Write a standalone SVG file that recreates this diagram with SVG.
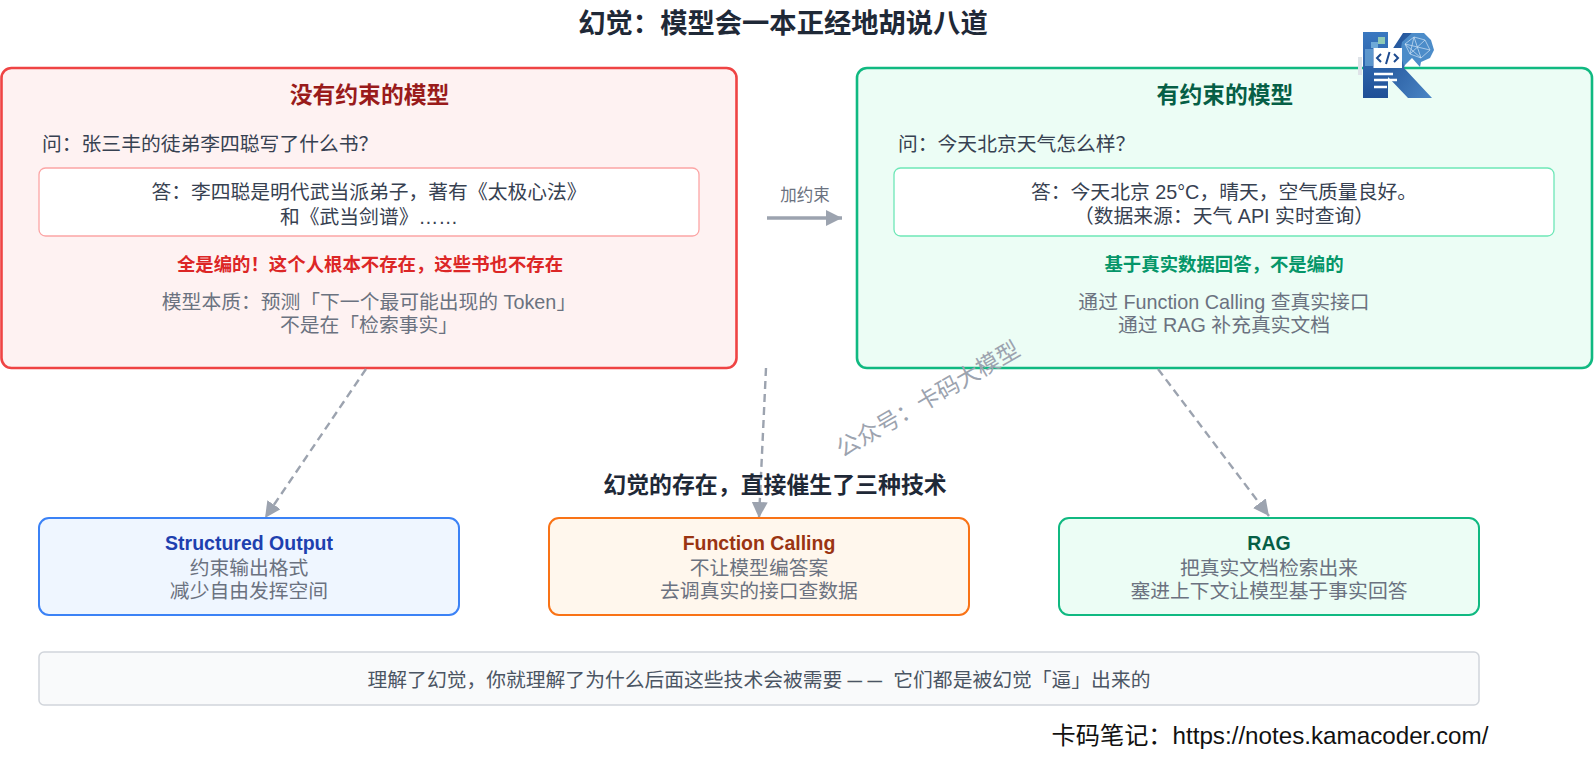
<svg xmlns="http://www.w3.org/2000/svg" width="1595" height="767" viewBox="0 0 1595 767">
<style>
text{font-family:"Liberation Sans","Noto Sans CJK SC",sans-serif;text-anchor:middle}
.b{font-weight:700}
.body{font-size:19.8px;fill:#374151}
.mut{font-size:19.8px;fill:#6b7280}
.conn{fill:none;stroke:#9ca3af;stroke-width:2.400;stroke-dasharray:8 5}
</style>
<defs>
<marker id="ah" markerUnits="userSpaceOnUse" markerWidth="20" markerHeight="20" refX="16" refY="8" orient="auto"><path d="M0 0L16 8L0 16Z" fill="#9ca3af"/></marker>
<linearGradient id="lg" x1="0" y1="0" x2="0" y2="1"><stop offset="0" stop-color="#3a78c0"/><stop offset="1" stop-color="#1f4f96"/></linearGradient>
<linearGradient id="lg2" x1="0" y1="0" x2="1" y2="1"><stop offset="0" stop-color="#1f4f96"/><stop offset="1" stop-color="#4a86c5"/></linearGradient>
</defs>
<rect width="1595" height="767" fill="#fff"/>
<text id="title" class="b" x="783" y="33" font-size="27.300" fill="#1f2937">幻觉：模型会一本正经地胡说八道</text>
<g id="no-constraint">
<rect x="1.500" y="68" width="735" height="300" rx="10" fill="#fef2f2" stroke="#ef4444" stroke-width="2.600"/>
<text class="b" x="369.500" y="103" font-size="22.800" fill="#991b1b">没有约束的模型</text>
<text class="body" x="42" y="151" style="text-anchor:start">问：张三丰的徒弟李四聪写了什么书？</text>
<rect x="39" y="168" width="660" height="68" rx="6.500" fill="#fff" stroke="#fca5a5" stroke-width="1.300"/>
<text class="body" x="369" y="199">答：李四聪是明代武当派弟子，著有《太极心法》</text>
<text class="body" x="369" y="224">和《武当剑谱》……</text>
<text class="b" x="370" y="271" font-size="18.400" fill="#dc2626">全是编的！这个人根本不存在，这些书也不存在</text>
<text class="mut" x="369" y="309">模型本质：预测「下一个最可能出现的 Token」</text>
<text class="mut" x="369" y="332">不是在「检索事实」</text>
</g>
<g id="with-constraint">
<rect x="857" y="68" width="735" height="300" rx="10" fill="#ecfdf5" stroke="#10b981" stroke-width="2.600"/>
<text class="b" x="1225" y="103" font-size="22.800" fill="#065f46">有约束的模型</text>
<text class="body" x="898" y="151" style="text-anchor:start">问：今天北京天气怎么样？</text>
<rect x="894" y="168" width="660" height="68" rx="6.500" fill="#fff" stroke="#6ee7b7" stroke-width="1.300"/>
<text class="body" x="1224" y="199">答：今天北京 25°C，晴天，空气质量良好。</text>
<text class="body" x="1224" y="223">（数据来源：天气 API 实时查询）</text>
<text class="b" x="1224" y="271" font-size="18.400" fill="#059669">基于真实数据回答，不是编的</text>
<text class="mut" x="1224" y="309">通过 Function Calling 查真实接口</text>
<text class="mut" x="1224" y="332">通过 RAG 补充真实文档</text>
</g>
<g id="connectors">
<path d="M767 218H842" fill="none" stroke="#9ca3af" stroke-width="3.500" marker-end="url(#ah)"/>
<path class="conn" d="M366 369L265 518" marker-end="url(#ah)"/>
<path class="conn" d="M766 368L759 518" marker-end="url(#ah)"/>
<path class="conn" d="M1158 369L1269 516" marker-end="url(#ah)"/>
</g>
<text id="arrow-label" x="805" y="201" font-size="16.500" fill="#6b7280">加约束</text>
<text id="subtitle" class="b" x="775" y="493" font-size="22.900" fill="#1f2937">幻觉的存在，直接催生了三种技术</text>
<g id="structured-output">
<rect x="39" y="518" width="420" height="97" rx="10" fill="#eff6ff" stroke="#3b82f6" stroke-width="2"/>
<text class="b" x="249" y="550" font-size="19.500" fill="#1e40af">Structured Output</text>
<text class="mut" x="249" y="575">约束输出格式</text>
<text class="mut" x="249" y="598">减少自由发挥空间</text>
</g>
<g id="function-calling">
<rect x="549" y="518" width="420" height="97" rx="10" fill="#fff7ed" stroke="#f97316" stroke-width="2"/>
<text class="b" x="759" y="550" font-size="19.500" fill="#9a3412">Function Calling</text>
<text class="mut" x="759" y="575">不让模型编答案</text>
<text class="mut" x="759" y="598">去调真实的接口查数据</text>
</g>
<g id="rag">
<rect x="1059" y="518" width="420" height="97" rx="10" fill="#ecfdf5" stroke="#10b981" stroke-width="2"/>
<text class="b" x="1269" y="550" font-size="19.500" fill="#065f46">RAG</text>
<text class="mut" x="1269" y="575">把真实文档检索出来</text>
<text class="mut" x="1269" y="598">塞进上下文让模型基于事实回答</text>
</g>
<g id="summary">
<rect x="39" y="652" width="1440" height="53" rx="5" fill="#f9fafb" stroke="#d1d5db" stroke-width="1.500"/>
<text x="759" y="687" font-size="19.800" fill="#4b5563">理解了幻觉，你就理解了为什么后面这些技术会被需要 <tspan dy="-2.500" font-size="14" letter-spacing="6" stroke="#4b5563" stroke-width=".5">——</tspan><tspan dy="2.500"> 它们都是被幻觉「逼」出来的</tspan></text>
</g>
<text id="watermark" x="932" y="406" font-size="23" fill="#9ca3af" transform="rotate(-30 932 406)">公众号：卡码大模型</text>
<text id="footer" x="1270" y="744" font-size="24.200" fill="#111">卡码笔记：https://notes.kamacoder.com/</text>
<g id="logo">
<rect x="1358" y="57" width="4" height="18" fill="#dfe3e8"/>
<rect x="1363" y="32" width="25" height="66" fill="url(#lg)"/>
<path d="M1388 56L1403 33H1412L1404 68L1432 98H1408L1388 77Z" fill="url(#lg2)"/>
<path d="M1402 42L1412 33L1424 33L1431 40L1434 50L1430 58L1421 62L1420 67L1412 58L1404 66L1400 54Z" fill="#4c8cc9"/>
<path d="M1405 44L1414 37L1425 40L1430 50L1421 58L1410 54ZM1414 37L1421 58M1405 44L1430 50M1410 54L1425 40M1405 44L1421 58M1414 37L1410 54" fill="none" stroke="#cfe3f5" stroke-width="0.700"/>
<rect x="1378" y="37" width="7" height="7" fill="#8fc9b5"/>
<rect x="1371" y="42" width="7" height="6" fill="#6fa9d8"/>
<rect x="1365" y="49" width="8" height="17" fill="#6fa9d8" opacity=".7"/>
<rect x="1373.500" y="48" width="28.500" height="20" fill="#fff"/>
<path d="M1381 54L1377 58L1381 62M1394 54L1398 58L1394 62M1389.500 52L1386 64" fill="none" stroke="#1d4a8f" stroke-width="2"/>
<path d="M1374 74H1393M1374 80H1397M1374 87H1387" stroke="#fff" stroke-width="2.500"/>
</g>
</svg>
